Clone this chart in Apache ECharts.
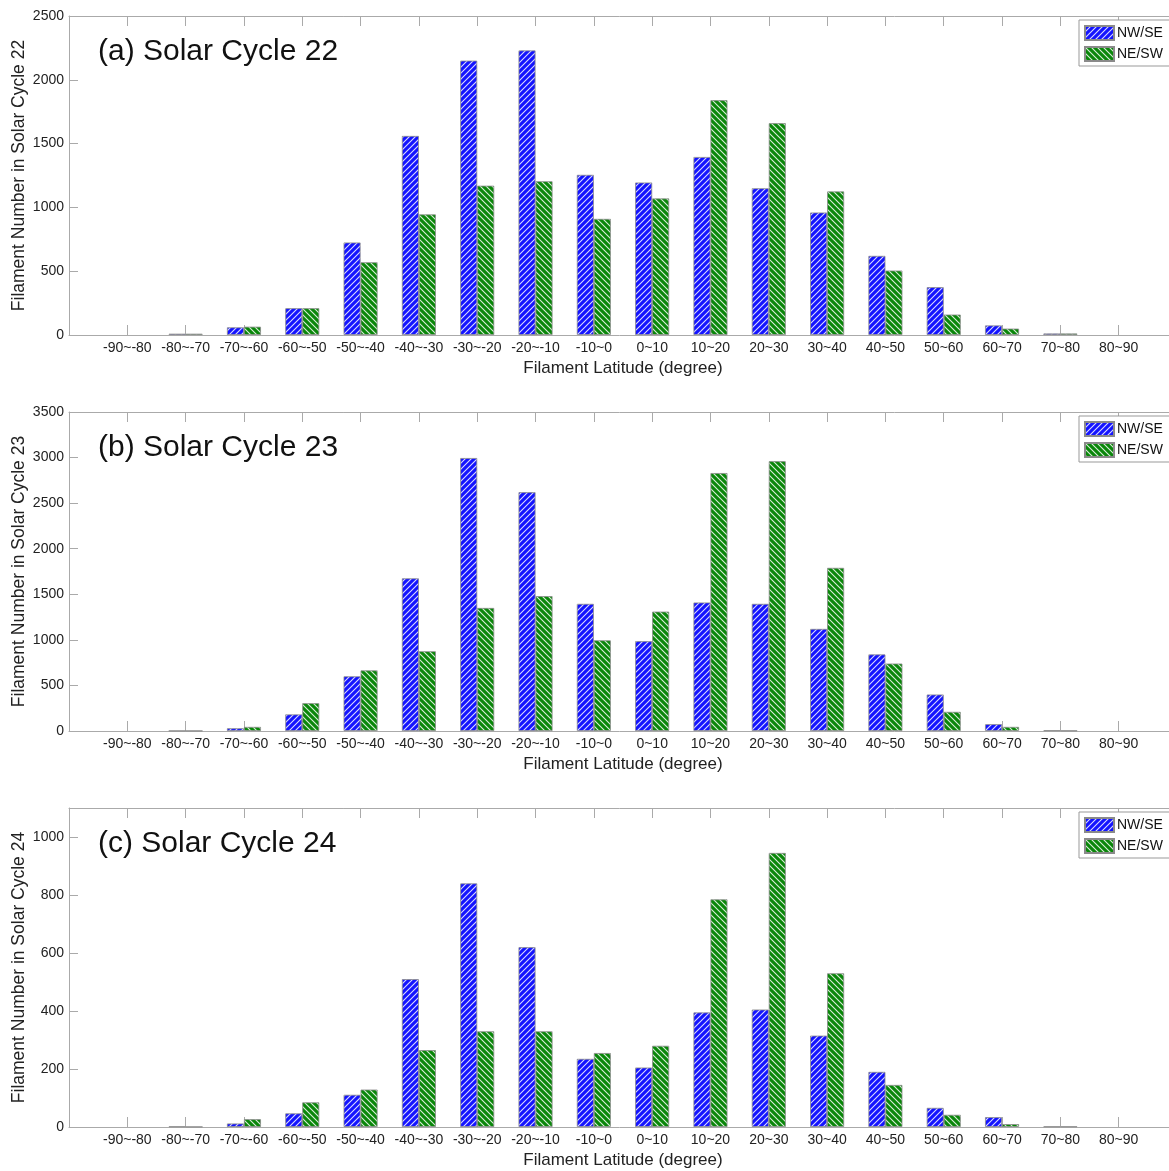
<!DOCTYPE html>
<html><head><meta charset="utf-8">
<script src="https://cdn.jsdelivr.net/npm/echarts@6/dist/echarts.min.js"></script>
<style>html,body{margin:0;padding:0;background:#fff}#c{width:1169px;height:1171px}</style>
</head><body><div id="c"></div>
<script>
const categories = ['-90~-80','-80~-70','-70~-60','-60~-50','-50~-40','-40~-30','-30~-20','-20~-10','-10~0','0~10','10~20','20~30','30~40','40~50','50~60','60~70','70~80','80~90'];
const cycle22_NWSE = [0,10,60,210,725,1560,2150,2230,1255,1195,1395,1150,960,620,375,75,12,0];
const cycle22_NESW = [0,10,65,210,570,945,1170,1205,910,1070,1840,1660,1125,505,160,50,12,0];
const cycle23_NWSE = [0,3,30,182,600,1675,2995,2620,1395,985,1410,1395,1120,840,400,75,8,0];
const cycle23_NESW = [0,3,45,305,665,875,1350,1480,995,1310,2830,2960,1790,740,210,45,5,0];
const cycle24_NWSE = [0,2,12,47,111,510,840,620,235,205,395,405,315,190,66,34,2,0];
const cycle24_NESW = [0,1,27,85,129,265,330,330,255,280,785,945,530,145,42,10,2,0];
const yMax = [2500,3500,1100];
const yInterval = [500,500,200];
const titles = ['(a) Solar Cycle 22','(b) Solar Cycle 23','(c) Solar Cycle 24'];
const yNames = ['Filament Number in Solar Cycle 22','Filament Number in Solar Cycle 23','Filament Number in Solar Cycle 24'];
const seriesNames = ['NW/SE','NE/SW'];

function hatch(base, dir){
  const s = 6, cv = document.createElement('canvas');
  cv.width = s; cv.height = s;
  const g = cv.getContext('2d');
  g.fillStyle = base; g.fillRect(0,0,s,s);
  g.strokeStyle = 'rgba(255,255,255,0.85)'; g.lineWidth = 1.1;
  g.beginPath();
  if (dir === '/') {
    g.moveTo(-1,s+1); g.lineTo(s+1,-1);
    g.moveTo(-1,1); g.lineTo(1,-1);
    g.moveTo(s-1,s+1); g.lineTo(s+1,s-1);
  } else {
    g.moveTo(-1,-1); g.lineTo(s+1,s+1);
    g.moveTo(s-1,-1); g.lineTo(s+1,1);
    g.moveTo(-1,s-1); g.lineTo(1,s+1);
  }
  g.stroke();
  return {image: cv, repeat: 'repeat'};
}
const blueFill = hatch('#1414ff','/');
const greenFill = hatch('#0a870a','\\');

const padded = [''].concat(categories, ['']);
const pad = a => [null].concat(a.map(v => v === 0 ? null : v), [null]);
const data = [[cycle22_NWSE,cycle22_NESW],[cycle23_NWSE,cycle23_NESW],[cycle24_NWSE,cycle24_NESW]];
const tops = [16,412,808];
const H = 319;
const font = 'Liberation Sans, Arial, Helvetica, sans-serif';
const axisCol = '#aaaaaa';

const option = {animation:false, grid:[], xAxis:[], yAxis:[], series:[], title:[], legend:[]};
for (let p=0;p<3;p++){
  option.grid.push({left:69, top:tops[p], width:1108, height:H, show:false, containLabel:false, outerBoundsMode:'none'});
  option.xAxis.push({type:'category', gridIndex:p, data:padded, boundaryGap:false,
    axisLine:{lineStyle:{color:axisCol}}, axisTick:{show:true, inside:true, length:10, interval:0, lineStyle:{color:axisCol}},
    axisLabel:{interval:0, color:'#222', fontSize:14, fontFamily:font, margin:6},
    splitLine:{show:false},
    name:'Filament Latitude (degree)', nameLocation:'middle', nameGap:25,
    nameTextStyle:{color:'#222', fontSize:17, fontFamily:font}});
  option.xAxis.push({type:'category', gridIndex:p, position:'top', data:padded, boundaryGap:false,
    axisLine:{lineStyle:{color:axisCol}}, axisTick:{show:true, inside:true, length:10, interval:0, lineStyle:{color:axisCol}},
    axisLabel:{show:false}, splitLine:{show:false}});
  option.yAxis.push({type:'value', gridIndex:p, min:0, max:yMax[p], interval:yInterval[p],
    axisLine:{show:true, lineStyle:{color:axisCol}}, axisTick:{show:true, inside:true, length:9, lineStyle:{color:axisCol}},
    axisLabel:{color:'#222', fontSize:14, fontFamily:font, margin:5, showMaxLabel: p!==2, formatter: v => String(v)},
    splitLine:{show:false},
    name:yNames[p], nameLocation:'middle', nameGap:41, nameMoveOverlap:false,
    nameTextStyle:{color:'#222', fontSize:17.5, fontFamily:font}});
  for (let s=0;s<2;s++){
    option.series.push({type:'bar', name:seriesNames[s], xAxisIndex:p*2, yAxisIndex:p,
      data:pad(data[p][s]), barWidth:17, barGap:'0%',
      itemStyle:{color: s===0?blueFill:greenFill, borderColor:'#8a8a8a', borderWidth:0.8}});
  }
  option.title.push({text:titles[p], left:93, top:tops[p]+16,
    textStyle:{fontSize:30, fontWeight:'normal', color:'#111', fontFamily:font}});
  option.legend.push({data:seriesNames, orient:'vertical', left:1079, top:tops[p]+4,
    icon:'rect', itemWidth:29, itemHeight:14, itemGap:5, padding:[5,40,4,5],
    borderColor:'#999', borderWidth:1, backgroundColor:'#fff',
    textStyle:{fontSize:14, color:'#111', fontFamily:font, padding:[0,0,0,-2]},
    selectedMode:false});
}
const chart = echarts.init(document.getElementById('c'));
chart.setOption(option);
</script></body></html>
